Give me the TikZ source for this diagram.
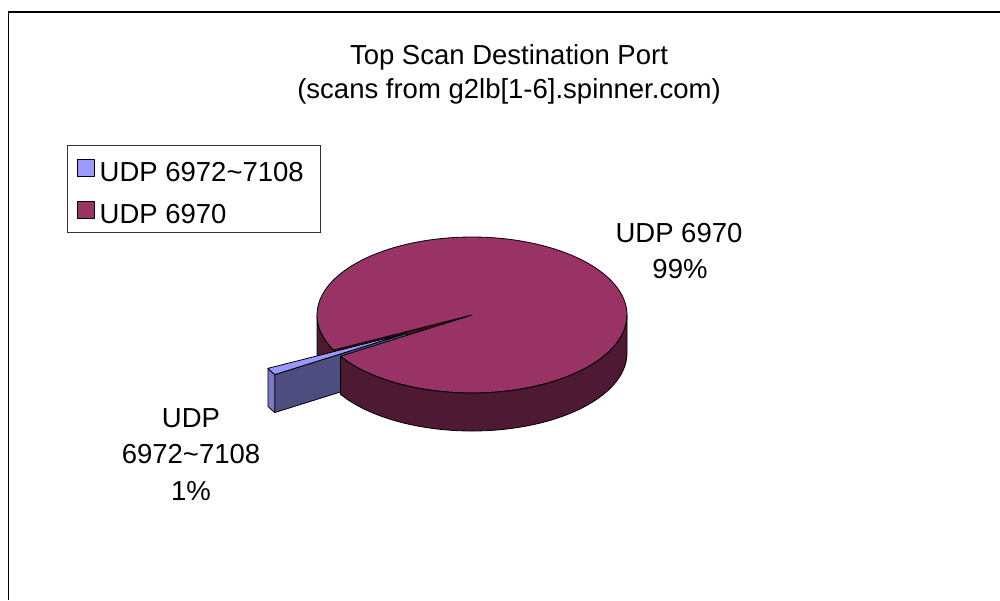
\documentclass[tikz,border=0pt]{standalone}
\usepackage{fontspec}
\setmainfont{Liberation Sans}
\definecolor{plum}{HTML}{993366}
\definecolor{plumside}{HTML}{4D1933}
\definecolor{plumcut}{HTML}{3A1326}
\definecolor{lav}{HTML}{9999FF}
\definecolor{lavside}{HTML}{4D4D80}
\definecolor{lavend}{HTML}{7A7ACC}
\newcommand\pieCX{472}
\newcommand\pieCY{315}
\newcommand\pieRX{155}
\newcommand\pieRY{78}
\newcommand\pieD{38}
\newcommand\angA{148.1}
\newcommand\angB{153.3}
\begin{document}
\begin{tikzpicture}[x=1pt,y=-1pt,
  edge/.style={draw=black,line width=0.8pt,line join=round},
  txt/.style={inner sep=0pt,anchor=base,font=\fontsize{27.5}{33}\selectfont}]
\useasboundingbox (0,0) rectangle (1000,600);
\fill[white] (0,0) rectangle (1000,600);
% chart frame
\draw[line width=1.6pt] (8.5,600) -- (8.5,12) -- (1000,12);

% title
\node[txt] (t1) at (509,64) {Top Scan Destination Port};
\node[txt] (t2) at (509,98) {(scans from g2lb[1-6].spinner.com)};

% legend
\draw[line width=0.8pt,draw=black!80] (67.7,145) rectangle (320,232);
\filldraw[fill=lav,edge] (77,159) rectangle (94,176);
\filldraw[fill=plum,edge] (77,201) rectangle (94,218);
\node[txt,anchor=base west] (lg1) at (99.5,181.5) {UDP 6972\textasciitilde 7108};
\node[txt,anchor=base west] (lg2) at (99.5,223.5) {UDP 6970};

% main pie: back-left wall
\filldraw[fill=plumside,edge]
  plot[domain=\angB:180,samples=30] ({\pieCX+\pieRX*cos(\x)},{\pieCY+\pieRY*sin(\x)})
  -- plot[domain=180:\angB,samples=30] ({\pieCX+\pieRX*cos(\x)},{\pieCY+\pieRY*sin(\x)+\pieD})
  -- cycle;
% main pie: cut face at angle B
\filldraw[fill=plumcut,edge] (\pieCX,\pieCY)
  -- ({\pieCX+\pieRX*cos(\angB)},{\pieCY+\pieRY*sin(\angB)})
  -- ({\pieCX+\pieRX*cos(\angB)},{\pieCY+\pieRY*sin(\angB)+\pieD})
  -- (\pieCX,\pieCY+\pieD) -- cycle;

% exploded small slice: side faces
\begin{scope}[shift={(-65.6,18.3)}]
  \filldraw[fill=lavside,edge] (\pieCX,\pieCY)
    -- ({\pieCX+\pieRX*cos(\angA)},{\pieCY+\pieRY*sin(\angA)})
    -- ({\pieCX+\pieRX*cos(\angA)},{\pieCY+\pieRY*sin(\angA)+\pieD})
    -- (\pieCX,\pieCY+\pieD) -- cycle;
  \filldraw[fill=lavend,edge]
    plot[domain=\angA:\angB,samples=10] ({\pieCX+\pieRX*cos(\x)},{\pieCY+\pieRY*sin(\x)})
    -- plot[domain=\angB:\angA,samples=10] ({\pieCX+\pieRX*cos(\x)},{\pieCY+\pieRY*sin(\x)+\pieD})
    -- cycle;
\end{scope}

% main pie: top face
\filldraw[fill=plum,edge] (\pieCX,\pieCY)
  -- plot[domain=\angB:{\angA+360},samples=240] ({\pieCX+\pieRX*cos(\x)},{\pieCY+\pieRY*sin(\x)})
  -- cycle;
% main pie: front wall
\filldraw[fill=plumside,edge]
  plot[domain=0:\angA,samples=120] ({\pieCX+\pieRX*cos(\x)},{\pieCY+\pieRY*sin(\x)})
  -- plot[domain=\angA:0,samples=120] ({\pieCX+\pieRX*cos(\x)},{\pieCY+\pieRY*sin(\x)+\pieD})
  -- cycle;

% exploded small slice: top face
\begin{scope}[shift={(-65.6,18.3)}]
  \filldraw[fill=lav,edge] (\pieCX,\pieCY)
    -- plot[domain=\angA:\angB,samples=10] ({\pieCX+\pieRX*cos(\x)},{\pieCY+\pieRY*sin(\x)})
    -- cycle;
\end{scope}

% data labels
\node[txt] (l1a) at (679,242) {UDP 6970};
\node[txt] (l1b) at (680,278) {99\%};
\node[txt] (l2a) at (191,427) {UDP};
\node[txt] (l2b) at (191,463) {6972\textasciitilde 7108};
\node[txt] (l2c) at (191,500) {1\%};
\end{tikzpicture}
\end{document}
